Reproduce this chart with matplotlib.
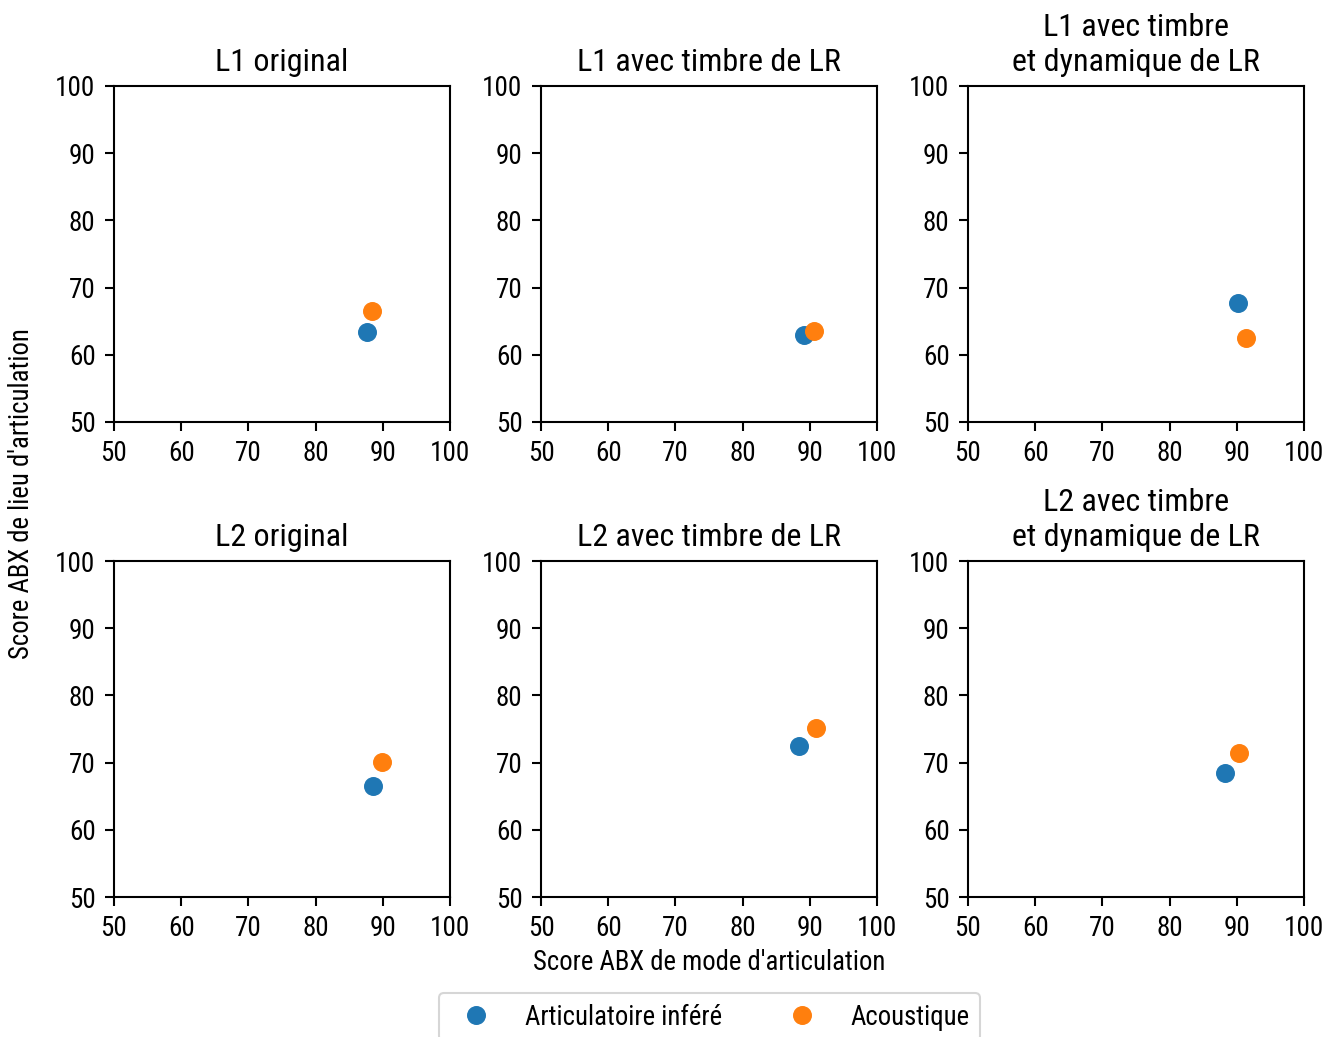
import matplotlib
matplotlib.use("Agg")
import matplotlib.pyplot as plt

plt.rcParams['font.family'] = ['Roboto Condensed', 'Roboto', 'DejaVu Sans']

# panel titles, in reading order
titles = ["L1 original", "L1 avec timbre de LR", "L1 avec timbre\net dynamique de LR",
          "L2 original", "L2 avec timbre de LR", "L2 avec timbre\net dynamique de LR"]

# mode score (x) / lieu score (y) per panel
artic_x = [87.6, 89.1, 90.2, 88.5, 88.4, 88.2]
artic_y = [63.4, 62.9, 67.7, 66.5, 72.5, 68.5]
acous_x = [88.4, 90.6, 91.4, 89.9, 90.9, 90.3]
acous_y = [66.5, 63.5, 62.5, 70.1, 75.1, 71.4]

ticks = [50, 60, 70, 80, 90, 100]

W, H = 1340, 1037
fig = plt.figure(figsize=(W / 100, H / 100), dpi=100)

lefts = [114, 541, 968]
tops = [86, 561]
size = 336

axes = []
for i in range(6):
    r, c = divmod(i, 3)
    ax = fig.add_axes([lefts[c] / W, 1 - (tops[r] + size) / H, size / W, size / H])
    ax.scatter(artic_x[i], artic_y[i], s=160, color='#1f77b4', label='Articulatoire inféré', zorder=3)
    ax.scatter(acous_x[i], acous_y[i], s=160, color='#ff7f0e', label='Acoustique', zorder=3)
    ax.set_xlim(50, 100)
    ax.set_ylim(50, 100)
    ax.set_xticks(ticks)
    ax.set_yticks(ticks)
    ax.tick_params(labelsize=19.5, length=6.8, width=1.5, pad=6.5)
    for sp in ax.spines.values():
        sp.set_linewidth(1.5)
    ax.set_title(titles[i], fontsize=23, pad=11, linespacing=1.25)
    axes.append(ax)

fig.text(709 / W, 1 - 962 / H, "Score ABX de mode d'articulation", fontsize=19.3,
         ha='center', va='center')
fig.text(22 / W, 1 - 494 / H, "Score ABX de lieu d'articulation", fontsize=19.3,
         ha='center', va='center', rotation=90)

h, l = axes[0].get_legend_handles_labels()
leg = fig.legend(h, l, loc='upper center', bbox_to_anchor=(709.5 / W, 1 - 993 / H),
                 ncol=2, fontsize=19.3, borderaxespad=0, scatteryoffsets=[0.5],
                 frameon=True)
leg.get_frame().set_linewidth(1.5)

fig.savefig("out.png", dpi=100)
